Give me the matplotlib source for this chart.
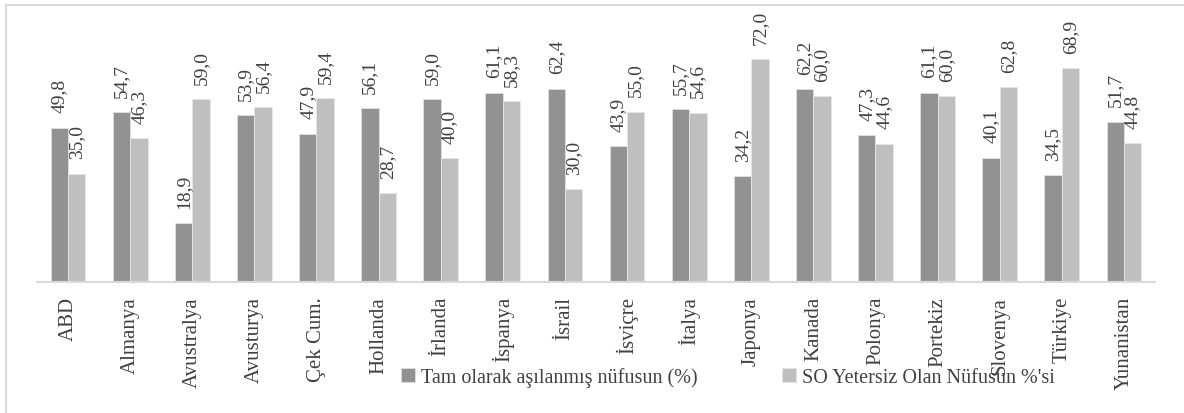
import matplotlib
matplotlib.use("Agg")
import matplotlib.pyplot as plt
import numpy as np
from matplotlib.lines import Line2D

categories = ["ABD", "Almanya", "Avustralya", "Avusturya", "Çek Cum.", "Hollanda",
              "İrlanda", "İspanya", "İsrail", "İsviçre", "İtalya", "Japonya",
              "Kanada", "Polonya", "Portekiz", "Slovenya", "Türkiye", "Yunanistan"]
asi = [49.8, 54.7, 18.9, 53.9, 47.9, 56.1, 59.0, 61.1, 62.4, 43.9, 55.7, 34.2,
       62.2, 47.3, 61.1, 40.1, 34.5, 51.7]
so = [35.0, 46.3, 59.0, 56.4, 59.4, 28.7, 40.0, 58.3, 30.0, 55.0, 54.6, 72.0,
      60.0, 44.6, 60.0, 62.8, 68.9, 44.8]
series_names = ["Tam olarak aşılanmış nüfusun (%)", "SO Yetersiz Olan Nüfusun %'si"]

plt.rcParams['font.family'] = ['Liberation Serif', 'DejaVu Serif']

W, H = 1184, 414
fig = plt.figure(figsize=(W / 100, H / 100), dpi=100)
fig.patch.set_facecolor("white")

# outer border (left and top visible)
fig.add_artist(Line2D([6 / W, 6 / W], [0, 1 - 6 / H], transform=fig.transFigure,
                      color="#d9d9d9", lw=1.5))
fig.add_artist(Line2D([6 / W, 1], [1 - 6 / H, 1 - 6 / H], transform=fig.transFigure,
                      color="#d9d9d9", lw=1.5))

left, right = 37, 1155
base, top = 283, 35
ax = fig.add_axes([left / W, (H - base) / H, (right - left) / W, (base - top) / H])

x = np.arange(len(categories))
w = 0.28
c1, c2 = "#929292", "#bfbfbf"
b1 = ax.bar(x - w / 2, asi, w, color=c1, edgecolor="#e0e0e0", linewidth=0.6, label=series_names[0])
b2 = ax.bar(x + w / 2, so, w, color=c2, edgecolor="#e6e6e6", linewidth=0.6, label=series_names[1])

for xi, v in zip(x - w / 2, asi):
    ax.annotate(f"{v:.1f}".replace(".", ","), (xi, v), xytext=(0, 11), textcoords="offset points",
                rotation=90, ha="center", va="bottom", fontsize=14, color="#404040")
for xi, v in zip(x + w / 2, so):
    ax.annotate(f"{v:.1f}".replace(".", ","), (xi, v), xytext=(0, 11), textcoords="offset points",
                rotation=90, ha="center", va="bottom", fontsize=14, color="#404040")

ax.set_xlim(-0.5, len(categories) - 0.5)
ax.set_ylim(0, 80)
ax.set_xticks(x)
ax.set_xticklabels(categories, rotation=90, fontsize=15, color="#404040")
ax.tick_params(axis="x", length=0, pad=10)
ax.set_yticks([])
for s in ["top", "right", "left"]:
    ax.spines[s].set_visible(False)
ax.spines["bottom"].set_color("#d9d9d9")
ax.spines["bottom"].set_linewidth(1.5)

leg = fig.legend(handles=[b1, b2], loc="center", bbox_to_anchor=(728 / W, 1 - 378 / H),
                 ncol=2, frameon=False, fontsize=14.5, handlelength=0.7, handleheight=0.7,
                 handletextpad=0.3, columnspacing=4.2, labelcolor="#404040")

fig.savefig("out.png", dpi=100)
